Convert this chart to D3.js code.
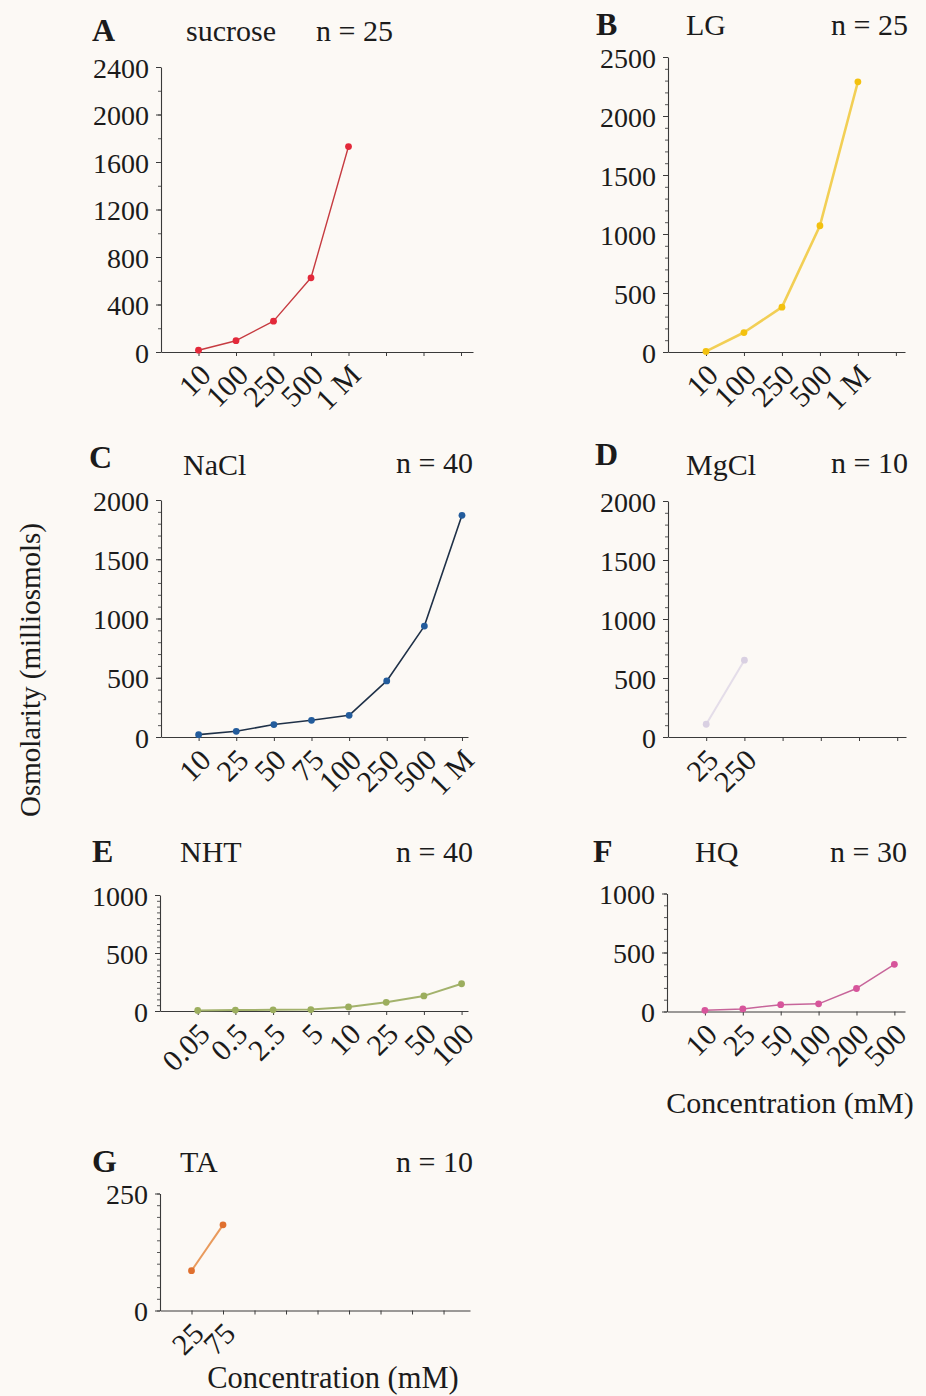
<!DOCTYPE html>
<html>
<head>
<meta charset="utf-8">
<script src="https://cdn.jsdelivr.net/npm/d3@7"></script>
<style>
  body { margin: 0; background: #fcf9f5; }
  svg text { font-family: "Liberation Serif", "Times New Roman", serif; fill: #1b1b1b; }
</style>
</head>
<body>
<svg id="chart" width="926" height="1396"></svg>
<script>
// ---- Osmolarity readings (milliosmols) per solute and concentration (mM) ----
const sucroseConc = ["10", "100", "250", "500", "1 M"];
const sucroseOsm  = [15, 95, 260, 625, 1730];

const lgConc = ["10", "100", "250", "500", "1 M"];
const lgOsm  = [5, 165, 380, 1070, 2290];

const naclConc = ["10", "25", "50", "75", "100", "250", "500", "1 M"];
const naclOsm  = [20, 48, 105, 141, 183, 473, 936, 1871];

const mgclConc = ["25", "250"];
const mgclOsm  = [108, 651];

const nhtConc = ["0.05", "0.5", "2.5", "5", "10", "25", "50", "100"];
const nhtOsm  = [5, 8, 10, 12, 35, 75, 130, 235];

const hqConc = ["10", "25", "50", "100", "200", "500"];
const hqOsm  = [10, 22, 58, 65, 195, 400];

const taConc = ["25", "75"];
const taOsm  = [85, 183];

// y-axis labelled ticks per panel
const yTicksA = [0, 400, 800, 1200, 1600, 2000, 2400];
const yTicksB = [0, 500, 1000, 1500, 2000, 2500];
const yTicksC = [0, 500, 1000, 1500, 2000];
const yTicksD = [0, 500, 1000, 1500, 2000];
const yTicksE = [0, 500, 1000];
const yTicksF = [0, 500, 1000];
const yTicksG = [0, 250];

const panelLetters = ["A", "B", "C", "D", "E", "F", "G"];
const panelNames   = ["sucrose", "LG", "NaCl", "MgCl", "NHT", "HQ", "TA"];
const sampleSizes  = [25, 25, 40, 10, 40, 30, 10];

const yTitle = "Osmolarity (milliosmols)";
const xTitle = "Concentration (mM)";

// ---- panel table built from the arrays above ----
const concs = [sucroseConc, lgConc, naclConc, mgclConc, nhtConc, hqConc, taConc];
const osms  = [sucroseOsm, lgOsm, naclOsm, mgclOsm, nhtOsm, hqOsm, taOsm];
const yTicks = [yTicksA, yTicksB, yTicksC, yTicksD, yTicksE, yTicksF, yTicksG];

// ---- layout and style (frame of each small plot) ----
const frames = [
  { x0: 161, x1: 473, y0: 352,  y1: 67,   slots: 8.32, nTicks: 8, minor: 200,
    head: { lx: 92,  ly: 40.7, tx: 186, ty: 40.7, nx: 393, ny: 40.7 } },
  { x0: 668, x1: 905, y0: 352,  y1: 57,   slots: 6.24, nTicks: 6, minor: 100,
    head: { lx: 596, ly: 35,   tx: 686, ty: 35,   nx: 908, ny: 35 } },
  { x0: 161, x1: 468, y0: 737,  y1: 500,  slots: 8.16, nTicks: 8, minor: 100,
    head: { lx: 89,  ly: 468,  tx: 183, ty: 475,  nx: 473, ny: 473 } },
  { x0: 668, x1: 906, y0: 737,  y1: 501,  slots: 6.23, nTicks: 6, minor: 100,
    head: { lx: 595, ly: 465,  tx: 686, ty: 475,  nx: 908, ny: 473 } },
  { x0: 160, x1: 468, y0: 1011, y1: 895,  slots: 8.17, nTicks: 8, minor: 50,
    head: { lx: 92,  ly: 862,  tx: 180, ty: 862,  nx: 473, ny: 862 } },
  { x0: 667, x1: 905, y0: 1011.5, y1: 893.5, slots: 6.28, nTicks: 6, minor: 100,
    head: { lx: 593, ly: 862,  tx: 695, ty: 862,  nx: 907, ny: 862 } },
  { x0: 160, x1: 470, y0: 1310.5, y1: 1193.5, slots: 9.84, nTicks: 9, minor: 25,
    head: { lx: 92,  ly: 1172, tx: 180, ty: 1172, nx: 473, ny: 1172 } }
];

const styles = [
  { line: "#c63b40", lw: 1.4, dot: "#e3293a" },
  { line: "#f2cf55", lw: 2.6, dot: "#f3c10f" },
  { line: "#1f3148", lw: 1.6, dot: "#235c9c" },
  { line: "#e4dde9", lw: 2.0, dot: "#d9d0e2" },
  { line: "#a3b26c", lw: 2.0, dot: "#9cae5e" },
  { line: "#c7659a", lw: 1.5, dot: "#d7559b" },
  { line: "#e99a5c", lw: 2.0, dot: "#e0702e" }
];

const svg = d3.select("#chart");
svg.append("rect").attr("width", 926).attr("height", 1396).attr("fill", "#fcf9f5");

panelLetters.forEach((letter, i) => {
  const f = frames[i], st = styles[i];
  const ticks = yTicks[i];
  const yMax = ticks[ticks.length - 1];

  const x = d3.scaleLinear().domain([0, f.slots]).range([f.x0, f.x1]);
  const y = d3.scaleLinear().domain([0, yMax]).range([f.y0, f.y1]);

  const g = svg.append("g");

  // minor y ticks
  g.append("g")
    .attr("transform", `translate(${f.x0},0)`)
    .call(d3.axisLeft(y).tickValues(d3.range(0, yMax + 0.001, f.minor)).tickSize(3).tickFormat(""))
    .call(s => s.select(".domain").remove())
    .call(s => s.selectAll("line").attr("stroke", "#555").attr("stroke-width", 1));

  // labelled y axis
  g.append("g")
    .attr("transform", `translate(${f.x0},0)`)
    .call(d3.axisLeft(y).tickValues(ticks).tickFormat(d3.format("d"))
      .tickSize(5).tickSizeOuter(0).tickPadding(7))
    .call(s => s.select(".domain").attr("stroke", "#3a3a3a").attr("stroke-width", 1.1))
    .call(s => s.selectAll("line").attr("stroke", "#3a3a3a"))
    .call(s => s.selectAll("text")
      .attr("font-size", 28).attr("fill", "#1b1b1b").attr("dy", "0.36em"));
  g.selectAll("text").attr("font-family", null);

  // x axis with category ticks
  g.append("g")
    .attr("transform", `translate(0,${f.y0})`)
    .call(d3.axisBottom(x).tickValues(d3.range(1, f.nTicks + 1)).tickSize(4).tickSizeOuter(0).tickFormat(""))
    .call(s => s.select(".domain").attr("stroke", "#3a3a3a").attr("stroke-width", 1.1))
    .call(s => s.selectAll("line").attr("stroke", "#3a3a3a"));

  // rotated concentration labels
  g.selectAll("text.xl").data(concs[i]).join("text")
    .attr("class", "xl")
    .attr("text-anchor", "end")
    .attr("font-size", 30)
    .attr("transform", (d, k) => `translate(${x(k + 1) + 14},${f.y0 + 25}) rotate(-45)`)
    .text(d => d);

  // series line and points
  const pts = osms[i].map((v, k) => [x(k + 1), y(v)]);
  g.append("path")
    .attr("d", d3.line()(pts))
    .attr("fill", "none")
    .attr("stroke", st.line)
    .attr("stroke-width", st.lw)
    .attr("stroke-linejoin", "round");
  g.selectAll("circle").data(pts).join("circle")
    .attr("cx", d => d[0]).attr("cy", d => d[1]).attr("r", 3.4)
    .attr("fill", st.dot);

  // panel heading
  const h = f.head;
  g.append("text").attr("x", h.lx).attr("y", h.ly)
    .attr("font-size", 32).attr("font-weight", "bold").text(letter);
  g.append("text").attr("x", h.tx).attr("y", h.ty)
    .attr("font-size", 30).text(panelNames[i]);
  g.append("text").attr("x", h.nx).attr("y", h.ny)
    .attr("font-size", 30).attr("text-anchor", "end").text(`n = ${sampleSizes[i]}`);
});

// shared axis titles
svg.append("text")
  .attr("transform", "translate(40,670) rotate(-90)")
  .attr("text-anchor", "middle").attr("font-size", 29).text(yTitle);
svg.append("text")
  .attr("x", 790).attr("y", 1113)
  .attr("text-anchor", "middle").attr("font-size", 30).text(xTitle);
svg.append("text")
  .attr("x", 333).attr("y", 1388)
  .attr("text-anchor", "middle").attr("font-size", 30.5).text(xTitle);
</script>
</body>
</html>
